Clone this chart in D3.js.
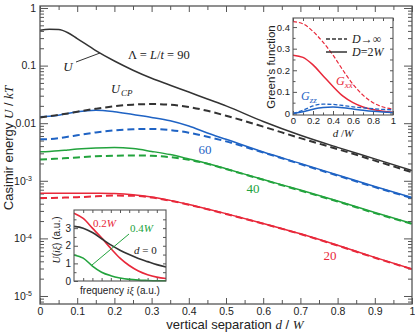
<!DOCTYPE html>
<html>
<head>
<meta charset="utf-8">
<script src="https://cdn.jsdelivr.net/npm/d3@7"></script>
<style>
  body { margin: 0; background: #fff; }
  svg text { font-family: "Liberation Sans", Arial, sans-serif; fill: #222; }
  svg text.serif, svg tspan.serif { font-family: "Liberation Serif", "Times New Roman", serif; }
</style>
</head>
<body>
<div id="chart"></div>
<script>
// separation grid d/W shared by all main curves
const dGrid = [0, 0.025, 0.05, 0.075, 0.1, 0.15, 0.2, 0.25, 0.3, 0.35, 0.4, 0.45, 0.5, 0.6, 0.7, 0.8, 0.9, 1.0];

// Casimir energy U/kT, Lambda = 90 (total and Casimir-Polder)
const u90   = [0.412, 0.427, 0.422, 0.372, 0.295, 0.182, 0.120, 0.0832, 0.0603, 0.0457, 0.0347, 0.0263, 0.0200, 0.0107, 0.00617, 0.00380, 0.00240, 0.00151];
const u90CP = [0.0126, 0.0132, 0.0140, 0.0148, 0.0158, 0.0178, 0.0197, 0.0210, 0.0215, 0.0209, 0.0191, 0.0164, 0.0135, 0.00871, 0.00550, 0.00355, 0.00224, 0.00141];
// Lambda = 60
const u60   = [0.0130, 0.0132, 0.0138, 0.0148, 0.0158, 0.0168, 0.0158, 0.0141, 0.0126, 0.0110, 0.00891, 0.00676, 0.00525, 0.00316, 0.00200, 0.00126, 0.000794, 0.000513];
const u60CP = [0.00525, 0.00531, 0.00550, 0.00582, 0.00617, 0.00692, 0.00750, 0.00785, 0.00794, 0.00759, 0.00684, 0.00582, 0.00484, 0.00309, 0.00195, 0.00123, 0.000776, 0.000501];
// Lambda = 40
const u40   = [0.00320, 0.00324, 0.00331, 0.00343, 0.00355, 0.00372, 0.00380, 0.00363, 0.00324, 0.00285, 0.00240, 0.00200, 0.00162, 0.00105, 0.000692, 0.000447, 0.000282, 0.000182];
const u40CP = [0.00234, 0.00237, 0.00243, 0.00248, 0.00254, 0.00266, 0.00272, 0.00275, 0.00272, 0.00257, 0.00232, 0.00197, 0.00160, 0.00104, 0.000676, 0.000437, 0.000275, 0.000178];
// Lambda = 20
const u20   = [0.000607, 0.000608, 0.000609, 0.000610, 0.000610, 0.000607, 0.000600, 0.000575, 0.000525, 0.000457, 0.000389, 0.000324, 0.000269, 0.000182, 0.000120, 0.0000759, 0.0000468, 0.0000295];
const u20CP = [0.000501, 0.000504, 0.000507, 0.000513, 0.000519, 0.000537, 0.000553, 0.000550, 0.000513, 0.000452, 0.000385, 0.000320, 0.000266, 0.000180, 0.000119, 0.0000750, 0.0000462, 0.0000292];

// main axis ticks
const xTicks = [0, 0.1, 0.2, 0.3, 0.4, 0.5, 0.6, 0.7, 0.8, 0.9, 1];
const yDecades = [1, 0.1, 0.01, 1e-3, 1e-4, 1e-5];
const yDecadeLabels = [["1"], ["0.1"], ["0.01"], ["10", "-3"], ["10", "-4"], ["10", "-5"]];

// inset: Green's function vs d/W
const gD = [0, 0.1, 0.2, 0.3, 0.4, 0.5, 0.6, 0.7, 0.8, 0.9, 1.0];
const gxxInf = [0.425, 0.415, 0.38, 0.33, 0.27, 0.2, 0.135, 0.085, 0.05, 0.03, 0.02];
const gxx2W  = [0.27, 0.26, 0.225, 0.175, 0.125, 0.08, 0.05, 0.03, 0.018, 0.01, 0.006];
const gzzInf = [0, 0.015, 0.035, 0.043, 0.042, 0.037, 0.031, 0.026, 0.022, 0.019, 0.017];
const gzz2W  = [0, 0.008, 0.02, 0.028, 0.03, 0.027, 0.021, 0.015, 0.01, 0.007, 0.005];

// inset: U(i xi) vs frequency (arbitrary units)
const freq = [0, 0.1, 0.2, 0.3, 0.4, 0.5, 0.6, 0.7, 0.8, 0.9, 1.0];
const spec0  = [3.1, 3.0, 2.75, 2.4, 2.05, 1.75, 1.5, 1.28, 1.1, 0.93, 0.8];
const spec02 = [3.85, 3.55, 3.0, 2.45, 1.85, 1.3, 0.88, 0.57, 0.36, 0.22, 0.14];
const spec04 = [1.48, 1.3, 0.85, 0.5, 0.3, 0.17, 0.09, 0.05, 0.03, 0.015, 0.01];

const BLACK = "#333333", BLUE = "#1f63c4", GREEN = "#22a33d", RED = "#e8283a", FRAME = "#555";

const svg = d3.select("#chart").append("svg")
    .attr("width", 415)
    .attr("height", 336);

// ---------- main plot ----------
const x = d3.scaleLinear().domain([0, 1]).range([40, 412]);
const y = d3.scaleLog().domain([Math.pow(10, -5.139), Math.pow(10, 0.0347)]).range([304, 6]);

svg.append("clipPath").attr("id", "clipMain")
    .append("rect").attr("x", 40).attr("y", 6).attr("width", 372).attr("height", 298);

// minor log ticks
const yMinor = [];
for (let e = -6; e <= 0; e++) {
    for (let k = 2; k <= 9; k++) {
        const v = k * Math.pow(10, e);
        if (v > y.domain()[0] && v < y.domain()[1]) yMinor.push(v);
    }
}
const xMinor = d3.range(0.05, 1, 0.1);

function noDomain(g) { g.select(".domain").remove(); g.selectAll("line").attr("stroke", FRAME); }

svg.append("g").attr("transform", "translate(40,0)")
    .call(d3.axisLeft(y).tickValues(yDecades).tickSize(-8).tickFormat(""))
    .call(noDomain);
svg.append("g").attr("transform", "translate(40,0)")
    .call(d3.axisLeft(y).tickValues(yMinor).tickSize(-4).tickFormat(""))
    .call(noDomain);
svg.append("g").attr("transform", "translate(412,0)")
    .call(d3.axisRight(y).tickValues(yDecades).tickSize(-8).tickFormat(""))
    .call(noDomain);
svg.append("g").attr("transform", "translate(412,0)")
    .call(d3.axisRight(y).tickValues(yMinor).tickSize(-4).tickFormat(""))
    .call(noDomain);

svg.append("g").attr("transform", "translate(0,304)")
    .call(d3.axisBottom(x).tickValues(xTicks).tickSize(-6).tickPadding(4).tickFormat(d3.format("")))
    .call(noDomain)
    .call(g => g.selectAll("text").attr("font-size", "10.5px").attr("fill", "#222"));
svg.append("g").attr("transform", "translate(0,304)")
    .call(d3.axisBottom(x).tickValues(xMinor).tickSize(-4).tickFormat(""))
    .call(noDomain);
svg.append("g").attr("transform", "translate(0,6)")
    .call(d3.axisTop(x).tickValues(xTicks).tickSize(-6).tickFormat(""))
    .call(noDomain);
svg.append("g").attr("transform", "translate(0,6)")
    .call(d3.axisTop(x).tickValues(xMinor).tickSize(-4).tickFormat(""))
    .call(noDomain);

// y tick labels with superscripts
yDecades.forEach((v, i) => {
    const t = svg.append("text")
        .attr("x", 36).attr("y", y(v)).attr("dy", "0.36em")
        .attr("text-anchor", "end").attr("font-size", "10.5px");
    const lab = yDecadeLabels[i];
    if (lab.length === 1) {
        t.text(lab[0]);
    } else {
        t.attr("x", 32);
        t.append("tspan").text(lab[0]);
        t.append("tspan").attr("font-size", "7px").attr("dy", "-0.5em").text(lab[1]);
    }
});

// curves
const mainLine = d3.line()
    .x((d, i) => x(dGrid[i]))
    .y(d => y(d))
    .curve(d3.curveMonotoneX);

const series = [
    {v: u20CP, c: RED, dash: true}, {v: u20, c: RED},
    {v: u40CP, c: GREEN, dash: true}, {v: u40, c: GREEN},
    {v: u60CP, c: BLUE, dash: true}, {v: u60, c: BLUE},
    {v: u90CP, c: BLACK, dash: true}, {v: u90, c: BLACK}
];
const curves = svg.append("g").attr("clip-path", "url(#clipMain)");
series.forEach(s => {
    curves.append("path")
        .attr("d", mainLine(s.v))
        .attr("fill", "none")
        .attr("stroke", s.c)
        .attr("stroke-width", s.dash ? 2 : 1.5)
        .attr("stroke-dasharray", s.dash ? "7,4" : null);
});

svg.append("rect").attr("x", 40).attr("y", 6).attr("width", 372).attr("height", 298)
    .attr("fill", "none").attr("stroke", FRAME).attr("stroke-width", 1.3);

// curve annotations
svg.append("text").attr("class", "serif").attr("x", 68).attr("y", 71)
    .attr("text-anchor", "middle").attr("font-size", "13px").attr("font-style", "italic").text("U");
svg.append("line").attr("x1", 76).attr("y1", 62).attr("x2", 100).attr("y2", 53)
    .attr("stroke", BLACK).attr("stroke-width", 1);

const lam = svg.append("text").attr("class", "serif").attr("x", 128).attr("y", 59).attr("font-size", "12.5px");
lam.append("tspan").text("Λ = ");
lam.append("tspan").attr("font-style", "italic").text("L");
lam.append("tspan").text("/");
lam.append("tspan").attr("font-style", "italic").text("t");
lam.append("tspan").text(" = 90");

const ucp = svg.append("text").attr("class", "serif").attr("x", 111).attr("y", 93).attr("font-size", "12.5px").attr("font-style", "italic");
ucp.append("tspan").text("U");
ucp.append("tspan").attr("font-size", "9px").attr("dy", "0.3em").attr("dx", "1").text("CP");

[["60", 205, 149, BLUE], ["40", 253, 188, GREEN], ["20", 330, 255, RED]].forEach(l => {
    svg.append("text").attr("class", "serif").attr("x", l[1]).attr("y", l[2]).attr("dy", "0.35em")
        .attr("text-anchor", "middle").attr("font-size", "13px").style("fill", l[3]).text(l[0]);
});

// axis titles
const xt = svg.append("text").attr("x", 235).attr("y", 329).attr("text-anchor", "middle").attr("font-size", "13px");
xt.append("tspan").text("vertical separation ");
xt.append("tspan").attr("class", "serif").attr("font-style", "italic").text("d");
xt.append("tspan").text(" / ");
xt.append("tspan").attr("class", "serif").attr("font-style", "italic").text("W");

const yt = svg.append("text").attr("transform", "translate(13,148) rotate(-90)").attr("text-anchor", "middle").attr("font-size", "13px");
yt.append("tspan").text("Casimir energy ");
yt.append("tspan").attr("class", "serif").attr("font-style", "italic").text("U");
yt.append("tspan").text(" / ");
yt.append("tspan").attr("class", "serif").attr("font-style", "italic").text("kT");

// ---------- inset 1: Green's function ----------
const gx = d3.scaleLinear().domain([0, 1]).range([293, 393]);
const gy = d3.scaleLinear().domain([-0.007, 0.442]).range([115, 18]);

svg.append("rect").attr("x", 293).attr("y", 18).attr("width", 100).attr("height", 97)
    .attr("fill", "#fff").attr("stroke", "none");

svg.append("g").attr("transform", "translate(293,0)")
    .call(d3.axisLeft(gy).tickValues([0, 0.1, 0.2, 0.3, 0.4]).tickSize(-4).tickPadding(3).tickFormat(d3.format("")))
    .call(noDomain)
    .call(g => g.selectAll("text").attr("font-size", "9.5px").attr("fill", "#222"));
svg.append("g").attr("transform", "translate(293,0)")
    .call(d3.axisLeft(gy).tickValues([0.05, 0.15, 0.25, 0.35]).tickSize(-2.5).tickFormat(""))
    .call(noDomain);
svg.append("g").attr("transform", "translate(393,0)")
    .call(d3.axisRight(gy).tickValues([0, 0.05, 0.1, 0.15, 0.2, 0.25, 0.3, 0.35, 0.4]).tickSize(-3).tickFormat(""))
    .call(noDomain);
svg.append("g").attr("transform", "translate(0,115)")
    .call(d3.axisBottom(gx).tickValues([0, 0.2, 0.4, 0.6, 0.8, 1]).tickSize(-4).tickPadding(2).tickFormat(d3.format("")))
    .call(noDomain)
    .call(g => g.selectAll("text").attr("font-size", "9.5px").attr("fill", "#222"));
svg.append("g").attr("transform", "translate(0,115)")
    .call(d3.axisBottom(gx).tickValues([0.1, 0.3, 0.5, 0.7, 0.9]).tickSize(-2.5).tickFormat(""))
    .call(noDomain);
svg.append("g").attr("transform", "translate(0,18)")
    .call(d3.axisTop(gx).tickValues(d3.range(0, 1.01, 0.1)).tickSize(-3).tickFormat(""))
    .call(noDomain);

svg.append("clipPath").attr("id", "clipG")
    .append("rect").attr("x", 293).attr("y", 18).attr("width", 100).attr("height", 97);

const gLine = d3.line().x((d, i) => gx(gD[i])).y(d => gy(d)).curve(d3.curveMonotoneX);
const gSeries = [
    {v: gxxInf, c: RED, dash: "4,2", w: 1.2},
    {v: gxx2W, c: RED, w: 1.5},
    {v: gzzInf, c: BLUE, dash: "4,2", w: 1.3},
    {v: gzz2W, c: BLUE, w: 1.5}
];
const gCurves = svg.append("g").attr("clip-path", "url(#clipG)");
gSeries.forEach(s => {
    gCurves.append("path").attr("d", gLine(s.v)).attr("fill", "none")
        .attr("stroke", s.c).attr("stroke-width", s.w).attr("stroke-dasharray", s.dash || null);
});
svg.append("rect").attr("x", 293).attr("y", 18).attr("width", 100).attr("height", 97)
    .attr("fill", "none").attr("stroke", FRAME).attr("stroke-width", 1.1);

// inset legend
svg.append("line").attr("x1", 326).attr("x2", 347).attr("y1", 39).attr("y2", 39)
    .attr("stroke", BLACK).attr("stroke-width", 1.3).attr("stroke-dasharray", "4,2");
svg.append("line").attr("x1", 326).attr("x2", 347).attr("y1", 52).attr("y2", 52)
    .attr("stroke", BLACK).attr("stroke-width", 1.5);
const l1 = svg.append("text").attr("class", "serif").attr("x", 352).attr("y", 43).attr("font-size", "12px");
l1.append("tspan").attr("font-style", "italic").text("D");
l1.append("tspan").text("→∞");
const l2 = svg.append("text").attr("class", "serif").attr("x", 352).attr("y", 56).attr("font-size", "12px");
l2.append("tspan").attr("font-style", "italic").text("D");
l2.append("tspan").text("=2");
l2.append("tspan").attr("font-style", "italic").text("W");

const gxxLab = svg.append("text").attr("class", "serif").attr("x", 336).attr("y", 85).attr("font-size", "12px")
    .attr("font-style", "italic").style("fill", RED);
gxxLab.append("tspan").text("G");
gxxLab.append("tspan").attr("font-size", "9px").attr("dy", "0.3em").text("xx");
const gzzLab = svg.append("text").attr("class", "serif").attr("x", 301).attr("y", 100).attr("font-size", "12px")
    .attr("font-style", "italic").style("fill", BLUE);
gzzLab.append("tspan").text("G");
gzzLab.append("tspan").attr("font-size", "9px").attr("dy", "0.3em").text("zz");

svg.append("text").attr("transform", "translate(275,67) rotate(-90)").attr("text-anchor", "middle")
    .attr("font-size", "11.5px").text("Green's function");
const gxt = svg.append("text").attr("class", "serif").attr("x", 343).attr("y", 137).attr("text-anchor", "middle")
    .attr("font-size", "11px").attr("font-style", "italic");
gxt.append("tspan").text("d");
gxt.append("tspan").attr("font-style", "normal").text(" /");
gxt.append("tspan").text("W");

// ---------- inset 2: U(i xi) spectrum ----------
const fx = d3.scaleLinear().domain([0, 1]).range([74, 166]);
const fy = d3.scaleLinear().domain([0, 4.03]).range([281, 210]);

svg.append("rect").attr("x", 74).attr("y", 210).attr("width", 92).attr("height", 71)
    .attr("fill", "#fff").attr("stroke", "none");

svg.append("g").attr("transform", "translate(74,0)")
    .call(d3.axisLeft(fy).tickValues([0, 1, 2, 3]).tickSize(-4).tickPadding(3).tickFormat(d3.format("")))
    .call(noDomain)
    .call(g => g.selectAll("text").attr("font-size", "10px").attr("fill", "#222"));
svg.append("g").attr("transform", "translate(74,0)")
    .call(d3.axisLeft(fy).tickValues([0.5, 1.5, 2.5, 3.5]).tickSize(-2.5).tickFormat(""))
    .call(noDomain);
svg.append("g").attr("transform", "translate(166,0)")
    .call(d3.axisRight(fy).tickValues([0.5, 1, 1.5, 2, 2.5, 3, 3.5]).tickSize(-3).tickFormat(""))
    .call(noDomain);
svg.append("g").attr("transform", "translate(0,281)")
    .call(d3.axisBottom(fx).tickValues(d3.range(0.1, 1, 0.1)).tickSize(-3).tickFormat(""))
    .call(noDomain);
svg.append("g").attr("transform", "translate(0,210)")
    .call(d3.axisTop(fx).tickValues(d3.range(0.1, 1, 0.1)).tickSize(-3).tickFormat(""))
    .call(noDomain);

const fLine = d3.line().x((d, i) => fx(freq[i])).y(d => fy(d)).curve(d3.curveMonotoneX);
[[spec04, GREEN], [spec02, RED], [spec0, BLACK]].forEach(s => {
    svg.append("path").attr("d", fLine(s[0])).attr("fill", "none")
        .attr("stroke", s[1]).attr("stroke-width", 1.6);
});
svg.append("rect").attr("x", 74).attr("y", 210).attr("width", 92).attr("height", 71)
    .attr("fill", "none").attr("stroke", FRAME).attr("stroke-width", 1.1);

svg.append("text").attr("class", "serif").attr("x", 93).attr("y", 227).attr("font-size", "11px")
    .style("fill", RED).html('0.2<tspan font-style="italic">W</tspan>');
svg.append("text").attr("class", "serif").attr("x", 130).attr("y", 232).attr("font-size", "11px")
    .style("fill", GREEN).html('0.4<tspan font-style="italic">W</tspan>');
svg.append("line").attr("x1", 129).attr("y1", 234).attr("x2", 92).attr("y2", 265)
    .attr("stroke", GREEN).attr("stroke-width", 1);
svg.append("text").attr("class", "serif").attr("x", 134).attr("y", 254).attr("font-size", "11px")
    .html('<tspan font-style="italic">d</tspan> = 0');

const ft = svg.append("text").attr("x", 120).attr("y", 294).attr("text-anchor", "middle").attr("font-size", "10px");
ft.append("tspan").text("frequency ");
ft.append("tspan").attr("class", "serif").attr("font-style", "italic").text("iξ");
ft.append("tspan").text(" (a.u.)");

const fyt = svg.append("text").attr("transform", "translate(60,240) rotate(-90)").attr("text-anchor", "middle").attr("font-size", "10px");
fyt.append("tspan").attr("class", "serif").attr("font-style", "italic").text("U");
fyt.append("tspan").text("(");
fyt.append("tspan").attr("class", "serif").attr("font-style", "italic").text("iξ");
fyt.append("tspan").text(") (a.u.)");
</script>
</body>
</html>
